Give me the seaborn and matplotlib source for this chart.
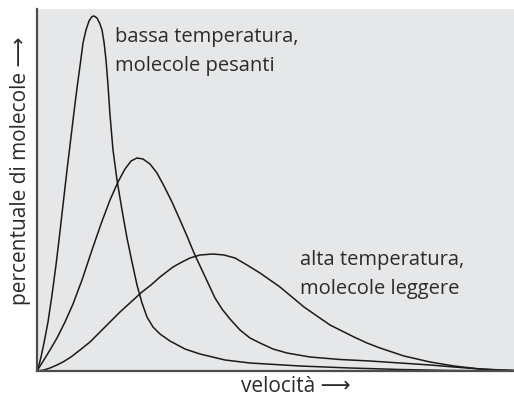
import pandas as pd
import seaborn as sns
import matplotlib.pyplot as plt

# values (x: speed, y: share of molecules, arbitrary units)
# low temperature, heavy molecules
slow_x = [0, 2, 4, 7, 11, 15, 19, 22, 26, 30, 34, 37, 40, 43, 46, 49, 52, 55, 57,
          60, 63, 65, 67, 69, 71, 73, 76, 80, 85, 90, 95, 100, 105, 110, 116, 123,
          133, 148, 163, 188, 213, 263, 313, 363, 413, 477]
slow_y = [0, 6, 14, 28, 49, 76, 106, 131, 166, 201, 234, 259, 283, 305, 328, 341,
          350, 354.5, 355, 353, 347, 341, 329, 311, 286, 256, 221, 191, 161, 133,
          109, 86, 68, 54, 44, 37, 30, 22, 17, 11, 8, 5, 3, 1.5, 0.5, 0]

# intermediate curve
mid_x = [0, 5, 13, 20, 28, 36, 45, 55, 64, 73, 81, 88, 94, 100, 106, 113, 120,
         127, 135, 143, 150, 157, 164, 171, 178, 185, 193, 203, 213, 223, 236,
         250, 273, 303, 333, 363, 393, 417, 443, 477]
mid_y = [0, 8, 21, 33, 49, 67, 91, 121, 147, 171, 189, 202, 210, 213, 212, 207,
         198, 185, 169, 151, 135, 118, 103, 88, 73, 62, 52, 41, 33, 28, 22, 18,
         14, 11.5, 10, 8, 6, 4, 2, 0.5]

# high temperature, light molecules
fast_x = [0, 7, 13, 20, 26, 34, 43, 53, 63, 73, 83, 94, 105, 114, 123, 136, 145,
          153, 163, 176, 187, 198, 210, 223, 233, 243, 255, 267, 280, 293, 305,
          317, 330, 343, 355, 367, 380, 393, 405, 417, 430, 443, 460, 477]
fast_y = [0, 1, 3, 6, 9, 14, 21, 29, 39, 49, 59, 69, 79, 86, 94, 104, 109, 113,
          116, 117, 116, 113, 106, 98, 91, 84, 74, 64, 55, 46, 40, 34, 28, 23,
          19, 15, 12, 9, 7, 5, 3.5, 2, 1, 0.5]

curves = pd.concat([
    pd.DataFrame({'v': slow_x, 'p': slow_y, 'curva': 'bassa'}),
    pd.DataFrame({'v': mid_x, 'p': mid_y, 'curva': 'media'}),
    pd.DataFrame({'v': fast_x, 'p': fast_y, 'curva': 'alta'}),
])

sns.set_style('white')
plt.rcParams['font.family'] = ['Open Sans', 'DejaVu Sans']

fig = plt.figure(figsize=(5.14, 4.01), dpi=100)
ax = fig.add_axes([37 / 514, 30 / 401, 477 / 514, 362 / 401])
ax.set_facecolor('#e6e7e9')

sns.lineplot(data=curves, x='v', y='p', hue='curva', units='curva', estimator=None,
             palette=['#1a1a1a'] * 3, linewidth=1.1, sort=False, legend=False, ax=ax)

ax.set_xlim(0, 477)
ax.set_ylim(0, 362)
ax.set_xticks([])
ax.set_yticks([])
for s in ['top', 'right']:
    ax.spines[s].set_visible(False)
for s in ['left', 'bottom']:
    ax.spines[s].set_color('#4d4d4d')
    ax.spines[s].set_linewidth(1.6)

txt = dict(color='#2b2b2b', fontsize=14.5, linespacing=1.6)
ax.text(78, 344, 'bassa temperatura,\nmolecole pesanti', va='top', ha='left', **txt)
ax.text(263, 121, 'alta temperatura,\nmolecole leggere', va='top', ha='left', **txt)

ax.set_xlabel('velocità ⟶', color='#2b2b2b', fontsize=15)
ax.set_ylabel('percentuale di molecole ⟶', color='#2b2b2b', fontsize=15)
ax.xaxis.set_label_coords(0.543, -0.014)
ax.yaxis.set_label_coords(-0.012, 0.552)

fig.savefig('out.png', dpi=100, facecolor='white')
